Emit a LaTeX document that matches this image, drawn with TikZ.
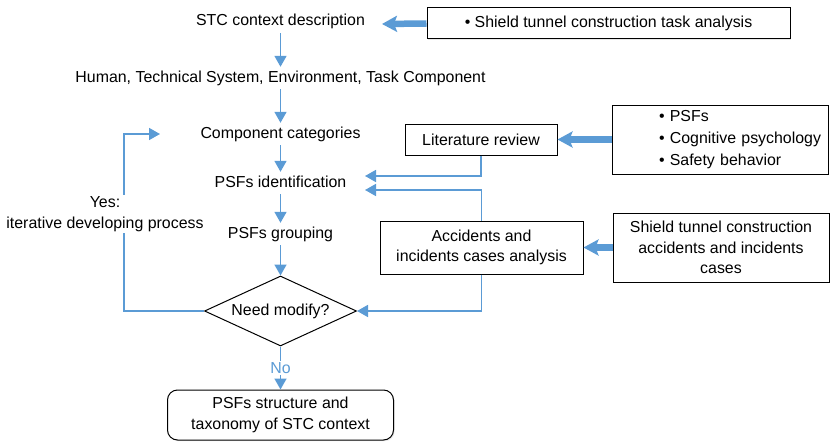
\documentclass[tikz,border=0pt]{standalone}
\usepackage{fontspec}
\setmainfont{Liberation Sans}
\usetikzlibrary{arrows.meta,shapes.geometric,shadows}
\definecolor{flowblue}{RGB}{91,155,213}
\hyphenpenalty=10000
\begin{document}
\begin{tikzpicture}[x=1pt,y=-1pt,
  every node/.style={font=\fontsize{15.9}{20.5}\selectfont},
  txt/.style={inner sep=0pt, minimum height=22pt, text height=11pt, text depth=3pt},
  box/.style={draw=black, line width=1pt, fill=white, inner sep=0pt,
    drop shadow={shadow xshift=1.2pt, shadow yshift=-1.2pt, opacity=0.18}},
  thinarrow/.style={draw=flowblue, line width=1.6pt, -{Triangle[length=11pt,width=12pt]}},
  thickarrow/.style={draw=flowblue, line width=6.5pt, -{Stealth[length=15pt,width=16pt,inset=3pt]}}
]
\useasboundingbox (0,0) rectangle (830,444);

% main column
\node[txt] (stc) at (280.5,22) {STC context description};
\node[txt] (hum) at (280.5,78) {Human, Technical System, Environment, Task Component};
\node[txt] (comp) at (280.5,134) {Component categories};
\node[txt] (ident) at (280.5,183) {PSFs identification};
\node[txt] (group) at (280.5,234) {PSFs grouping};
\node[draw=black, line width=1pt, diamond, aspect=2.17, minimum width=152pt, minimum height=70pt, inner sep=0pt, fill=white] (dia) at (280.5,311) {Need modify?};
\node[box, rounded corners=10pt, minimum width=226pt, minimum height=50pt, align=center] (res) at (280.5,415) {PSFs structure and\\taxonomy of STC context};

% side boxes
\node[box, minimum width=363pt, minimum height=31pt] (task) at (608.5,23.5) {\textbullet\ Shield tunnel construction task analysis};
\node[box, minimum width=152pt, minimum height=31pt] (lit) at (481,139.5) {Literature review};
\node[box, minimum width=216pt, minimum height=69pt, text width=206pt, align=left, font=\fontsize{15.9}{22}\selectfont] (psf) at (720,139.5) {\hspace*{42pt}\textbullet\ PSFs\\\hspace*{42pt}\textbullet\ Cognitive psychology\\\hspace*{42pt}\textbullet\ Safety behavior};
\node[box, minimum width=203pt, minimum height=53pt, align=center] (acc) at (481.5,247.5) {Accidents and\\incidents cases analysis};
\node[box, minimum width=216pt, minimum height=69pt, align=center] (shield) at (721,247.5) {Shield tunnel construction\\accidents and incidents\\cases};

% main arrows
\draw[thinarrow] (stc.south) -- (hum.north);
\draw[thinarrow] (hum.south) -- (comp.north);
\draw[thinarrow] (comp.south) -- (ident.north);
\draw[thinarrow] (ident.south) -- (group.north);
\draw[thinarrow] (group.south) -- (dia.north);
\draw[thinarrow] (dia.south) -- node[fill=white, inner sep=1pt, text=flowblue] (no) {No} (res.north);

% thick input arrows
\coordinate (stcin) at (382,24);
\draw[thickarrow] (task.west) -- (stcin);
\draw[thickarrow] (psf.west) -- (lit.east);
\draw[thickarrow] (shield.west) -- (acc.east);

% literature and accidents feedback
\coordinate (litin) at (365,176);
\coordinate (accin) at (365,190);
\draw[thinarrow] (lit.south) |- (litin);
\draw[thinarrow] (acc.north) |- (accin);
\draw[thinarrow] (acc.south) |- (dia.east);

% yes loop
\coordinate (yesend) at (160,134);
\draw[thinarrow] (dia.west) -- (124,311) -- (124,134) -- (yesend);
\node[fill=white, align=center, inner sep=2pt] (yes) at (105,214) {Yes:\\iterative developing process};
\end{tikzpicture}
\end{document}
